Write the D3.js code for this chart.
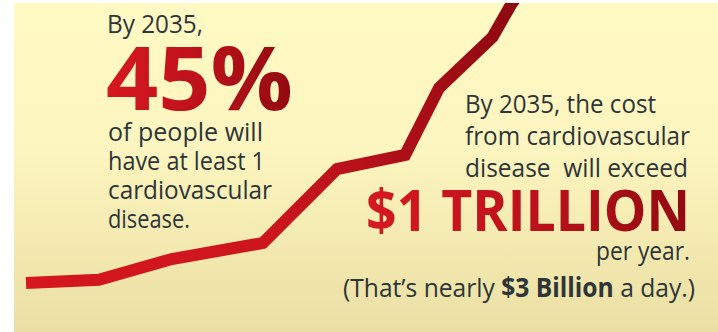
<!DOCTYPE html>
<html>
<head>
<meta charset="utf-8">
<script src="https://cdn.jsdelivr.net/npm/d3@7"></script>
<style>
  html, body { margin: 0; padding: 0; background: #ffffff; }
  svg { display: block; }
  text { white-space: pre; }
</style>
</head>
<body>
<svg id="chart" width="718" height="332"></svg>
<script>
// Projected yearly cost of cardiovascular disease (billions of dollars)
const years = [2015, 2018, 2021, 2024.75, 2027.8, 2030.6, 2032, 2034.2, 2035, 2035.5];
const costBillions = [300, 308, 360, 400, 585, 620, 788, 915, 1000, 1040];

// Callout text lines
const leftIntro = ["By 2035,"];
const leftBig = ["45%"];
const leftBody = ["of people will", "have at least 1", "cardiovascular", "disease."];
const rightBody = ["By 2035, the cost", "from cardiovascular", "disease  will exceed"];
const rightBig = ["$1 TRILLION"];
const rightTail = ["per year."];

const W = 718, H = 332;
const panel = { x: 14, y: 3, w: W - 14, h: H - 3 };

const svg = d3.select("#chart");
const defs = svg.append("defs");

const bg = defs.append("linearGradient").attr("id", "bg")
  .attr("x1", 0).attr("y1", 0).attr("x2", 0).attr("y2", 1);
bg.append("stop").attr("offset", 0).attr("stop-color", "#fff9c4");
bg.append("stop").attr("offset", 0.45).attr("stop-color", "#fdf5bf");
bg.append("stop").attr("offset", 1).attr("stop-color", "#eadfa3");

const lineGrad = defs.append("linearGradient").attr("id", "lineGrad")
  .attr("gradientUnits", "userSpaceOnUse")
  .attr("x1", 26).attr("y1", 0).attr("x2", 520).attr("y2", 0);
lineGrad.append("stop").attr("offset", 0).attr("stop-color", "#d6171f");
lineGrad.append("stop").attr("offset", 0.5).attr("stop-color", "#cc151d");
lineGrad.append("stop").attr("offset", 0.8).attr("stop-color", "#a90e17");
lineGrad.append("stop").attr("offset", 1).attr("stop-color", "#8c0910");

const redText = defs.append("linearGradient").attr("id", "redText")
  .attr("x1", 0).attr("y1", 0).attr("x2", 1).attr("y2", 0);
redText.append("stop").attr("offset", 0).attr("stop-color", "#d71820");
redText.append("stop").attr("offset", 0.5).attr("stop-color", "#bd121b");
redText.append("stop").attr("offset", 1).attr("stop-color", "#920a10");

defs.append("clipPath").attr("id", "panelClip")
  .append("rect").attr("x", panel.x).attr("y", panel.y)
  .attr("width", panel.w).attr("height", panel.h);

svg.append("rect")
  .attr("x", panel.x).attr("y", panel.y)
  .attr("width", panel.w).attr("height", panel.h)
  .attr("fill", "url(#bg)");

// Scales
const x = d3.scaleLinear().domain([2015, 2035]).range([26, 512]);
const y = d3.scaleLinear().domain([0, 1000]).range([403, 3]);

const line = d3.line()
  .x((d, i) => x(years[i]))
  .y(d => y(d));

svg.append("path")
  .datum(costBillions)
  .attr("clip-path", "url(#panelClip)")
  .attr("d", line)
  .attr("fill", "none")
  .attr("stroke", "url(#lineGrad)")
  .attr("stroke-width", 12)
  .attr("stroke-linejoin", "miter")
  .attr("stroke-linecap", "butt");

// Text helper: places a line and fits it to the given width
const FONT = "'Open Sans', 'Noto Sans', sans-serif";
const ink = "#2d3538";
function put(str, px, py, size, width, opts = {}) {
  const t = svg.append("text")
    .attr("x", px).attr("y", py)
    .attr("font-family", FONT)
    .attr("font-size", size)
    .attr("font-weight", opts.weight || 400)
    .attr("fill", opts.fill || ink)
    .attr("text-anchor", opts.anchor || "start")
    .attr("textLength", width)
    .attr("lengthAdjust", "spacingAndGlyphs")
    .text(str);
  return t;
}

// Left callout
put(leftIntro[0], 107, 33, 26, 96);
put(leftBig[0], 106, 110, 88, 187, { weight: 700, fill: "url(#redText)" });
const leftWidths = [155, 157, 164, 82];
leftBody.forEach((s, i) => put(s, 108, 141 + i * 29, 26, leftWidths[i]));

// Right callout
const rightWidths = [191, 225, 223];
rightBody.forEach((s, i) => put(s, 465, 113 + i * 32, 26, rightWidths[i]));
put(rightBig[0], 366, 231, 58, 324, { weight: 700, fill: "url(#redText)" });
put(rightTail[0], 690, 260, 26, 94, { anchor: "end" });

// Closing remark with a bold figure
const note = svg.append("text")
  .attr("x", 343).attr("y", 297)
  .attr("font-family", FONT)
  .attr("font-size", 26)
  .attr("fill", ink)
  .attr("textLength", 352)
  .attr("lengthAdjust", "spacingAndGlyphs");
note.append("tspan").text("(That\u2019s nearly ");
note.append("tspan").attr("font-weight", 700).text("$3 Billion");
note.append("tspan").text(" a day.)");
</script>
</body>
</html>
